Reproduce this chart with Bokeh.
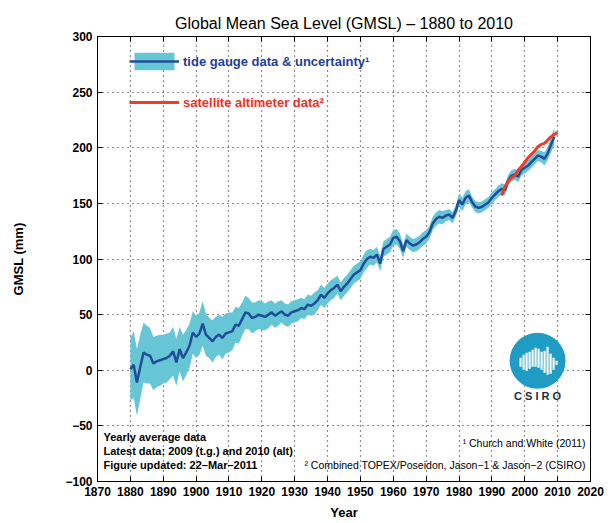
from bokeh.plotting import figure
from bokeh.models import (Range1d, LinearAxis, FixedTicker, Legend, LegendItem,
                          Label, ColumnDataSource)
from bokeh.embed import file_html
from bokeh.resources import INLINE

# ---------------- data ----------------
tg_years = list(range(1880, 2010))
tg_gmsl = [
    1, 5, -11, 3, 16, 14, 13, 6, 8, 9,            # 1880s
    10, 11, 13, 17, 7, 19, 11, 16, 22, 34,        # 1890s
    30, 33, 42, 32, 29, 26, 30, 32, 29, 33,       # 1900s
    34, 35, 41, 40, 46, 52, 51, 47, 48, 50,       # 1910s
    49, 48, 50, 52, 49, 51, 53, 50, 49, 52,       # 1920s
    53, 54, 56, 55, 59, 58, 60, 63, 68, 65,       # 1930s
    69, 72, 74, 77, 71, 75, 78, 82, 86, 88,       # 1940s
    90, 96, 100, 102, 101, 104, 96, 109, 111, 113,  # 1950s
    119, 120, 116, 107, 117, 114, 112, 113, 115, 118,  # 1960s
    120, 124, 132, 136, 138, 137, 139, 140, 137, 143,  # 1970s
    153, 149, 155, 157, 151, 147, 146, 147, 149, 151,  # 1980s
    155, 158, 161, 163, 162, 171, 175, 176, 174, 180,  # 1990s
    182, 184, 187, 190, 193, 192, 190, 195, 203, 210,  # 2000s
]
tg_uncert = [
    28, 30, 30, 29, 27, 26, 25, 24, 23, 23,
    22, 22, 21, 22, 21, 20, 21, 20, 20, 19,
    19, 19, 20, 19, 18, 19, 18, 18, 19, 18,
    18, 17, 16, 16, 15, 15, 14, 14, 13, 13,
    13, 12, 12, 11, 11, 11, 10, 10, 10, 10,
    10, 10, 9, 9, 9, 9, 10, 9, 9, 9,
    9, 9, 9, 8, 8, 8, 8, 8, 8, 8,
    8, 8, 8, 7, 7, 7, 7, 7, 7, 7,
    7, 7, 7, 6, 6, 6, 6, 6, 6, 6,
    6, 6, 6, 6, 6, 6, 5, 5, 5, 5,
    6, 6, 6, 6, 5, 5, 5, 5, 5, 5,
    5, 5, 5, 5, 5, 5, 5, 5, 5, 5,
    5, 5, 5, 5, 5, 5, 6, 6, 7, 8,
]
alt_years = list(range(1993, 2011))
alt_gmsl = [157, 165, 170, 173, 175, 180, 183, 187, 191, 194,
            197, 201, 203, 204, 207, 210, 212, 214]

x_ticks = list(range(1870, 2021, 10))
y_ticks = list(range(-100, 301, 50))

# CSIRO logo decoration (centre in data units, stripes as pixel offsets)
logo_x, logo_y = 2003.9, 8.5
stripe_dx = [-17, -14, -11, -8, -5, -2, 1, 4, 7, 10, 13, 16, 19]
stripe_top = [-3, -6, -8, -9, -11, -13, -12, -9, -10, -14, -7, -3, 0]
stripe_bot = [6, 9, 10, 8, 6, 6, 7, 9, 12, 14, 13, 9, 4]

PX_PER_YEAR = 493 / 150.0
PX_PER_MM = 446 / 400.0

# ---------------- figure ----------------
FONT = "Liberation Sans"
p = figure(width=612, height=522, output_backend="svg", toolbar_location=None,
           x_range=Range1d(1870, 2020), y_range=Range1d(-100, 300),
           min_border_left=97, min_border_right=22, min_border_top=36,
           min_border_bottom=40)
p.background_fill_color = "white"
p.border_fill_color = "white"
p.outline_line_color = "black"
p.outline_line_width = 1

p.title.text = "Global Mean Sea Level (GMSL) \u2013 1880 to 2010"
p.title.align = "center"
p.title.text_font = FONT
p.title.text_font_size = "16px"
p.title.text_font_style = "normal"
p.title.text_color = "black"
p.title.offset = 0
p.title.standoff = 10

for ax in (p.xaxis[0], p.yaxis[0]):
    ax.major_tick_in = 5
    ax.major_tick_out = 0
    ax.minor_tick_line_color = None
    ax.axis_line_color = "black"
    ax.major_label_text_font = FONT
    ax.major_label_text_font_size = "12px"
    ax.major_label_text_font_style = "bold"
    ax.major_label_text_color = "black"
    ax.axis_label_text_font = FONT
    ax.axis_label_text_font_size = "13px"
    ax.axis_label_text_font_style = "bold"
    ax.axis_label_text_color = "black"

p.xaxis[0].ticker = FixedTicker(ticks=x_ticks)
p.yaxis[0].ticker = FixedTicker(ticks=y_ticks)
p.xaxis[0].axis_label = "Year"
p.yaxis[0].axis_label = "GMSL (mm)"
p.xaxis[0].major_label_standoff = 5
p.xaxis[0].axis_label_standoff = 6
p.yaxis[0].major_label_standoff = 5
p.yaxis[0].axis_label_standoff = 36

# ticks on top and right (no labels drawn)
ax_r = LinearAxis(ticker=FixedTicker(ticks=y_ticks), major_tick_in=5, major_tick_out=0,
                  minor_tick_line_color=None, major_label_text_color=None,
                  major_label_text_font_size="1px",
                  major_label_standoff=0, axis_line_color="black")
ax_t = LinearAxis(ticker=FixedTicker(ticks=x_ticks), major_tick_in=5, major_tick_out=0,
                  minor_tick_line_color=None, major_label_text_color=None,
                  major_label_text_font_size="1px",
                  major_label_standoff=0, axis_line_color="black")
p.add_layout(ax_r, "right")
p.add_layout(ax_t, "above")

p.xgrid.ticker = FixedTicker(ticks=x_ticks)
p.ygrid.ticker = FixedTicker(ticks=y_ticks)
for g in (p.xgrid, p.ygrid):
    g.grid_line_color = "black"
    g.grid_line_dash = "1 4"
    g.grid_line_alpha = 0.9
    g.grid_line_width = 1.2

# ---------------- data glyphs ----------------
src = ColumnDataSource(dict(
    x=tg_years, y=tg_gmsl,
    lo=[v - u for v, u in zip(tg_gmsl, tg_uncert)],
    hi=[v + u for v, u in zip(tg_gmsl, tg_uncert)]))
band = p.varea(x="x", y1="lo", y2="hi", source=src, fill_color="#66c6d6", fill_alpha=1.0)
tline = p.line(x="x", y="y", source=src, line_color="#1f4e96", line_width=2.5)
aline = p.line(x=alt_years, y=alt_gmsl, line_color="#f23b24", line_width=3)

# ---------------- legends ----------------
leg1 = Legend(items=[LegendItem(label="tide gauge data & uncertainty\u00b9",
                                renderers=[band, tline])],
              location=(32, 409), glyph_width=50, glyph_height=22,
              label_text_color="#1f3f9a", label_text_font=FONT,
              label_text_font_size="13px", label_text_font_style="bold",
              label_standoff=4, padding=0, margin=0, spacing=0,
              border_line_color=None, background_fill_alpha=0)
leg2 = Legend(items=[LegendItem(label="satellite altimeter data\u00b2", renderers=[aline])],
              location=(32, 369), glyph_width=50, glyph_height=20,
              label_text_color="#f2301f", label_text_font=FONT,
              label_text_font_size="13px", label_text_font_style="bold",
              label_standoff=4, padding=0, margin=0, spacing=0,
              border_line_color=None, background_fill_alpha=0)
p.add_layout(leg1, "center")
p.add_layout(leg2, "center")

# ---------------- notes ----------------
notes_left = ["Yearly average data",
              "Latest data: 2009 (t.g.) and 2010 (alt)",
              "Figure updated: 22\u2013Mar\u20132011"]
notes_left_y = [-59.6, -73.0, -85.6]
for t, yv in zip(notes_left, notes_left_y):
    p.add_layout(Label(x=1871.8, y=yv, text=t, text_font=FONT, text_font_size="11px",
                       text_font_style="bold", text_color="black",
                       text_baseline="middle", text_align="left"))

notes_right = ["\u00b9 Church and White (2011)",
               "\u00b2 Combined TOPEX/Poseidon, Jason\u22121 & Jason\u22122 (CSIRO)"]
notes_right_y = [-65.0, -85.6]
for t, yv in zip(notes_right, notes_right_y):
    p.add_layout(Label(x=2018.5, y=yv, text=t, text_font=FONT, text_font_size="10.5px",
                       text_color="black", text_baseline="middle", text_align="right"))

# ---------------- CSIRO logo ----------------
p.scatter(x=[logo_x], y=[logo_y], size=56, marker="circle",
          fill_color="#1e9cc4", line_color=None)
p.segment(x0=[logo_x + d / PX_PER_YEAR for d in stripe_dx],
          y0=[logo_y - t / PX_PER_MM for t in stripe_top],
          x1=[logo_x + d / PX_PER_YEAR for d in stripe_dx],
          y1=[logo_y - b / PX_PER_MM for b in stripe_bot],
          line_color="white", line_width=2.2)
p.add_layout(Label(x=logo_x, y=logo_y - 35 / PX_PER_MM, text="C S I R O",
                   text_font=FONT, text_font_size="11px", text_font_style="bold",
                   text_color="#1b2e3a", text_align="center", text_baseline="middle"))

open("out.html", "w").write(file_html(p, INLINE))
